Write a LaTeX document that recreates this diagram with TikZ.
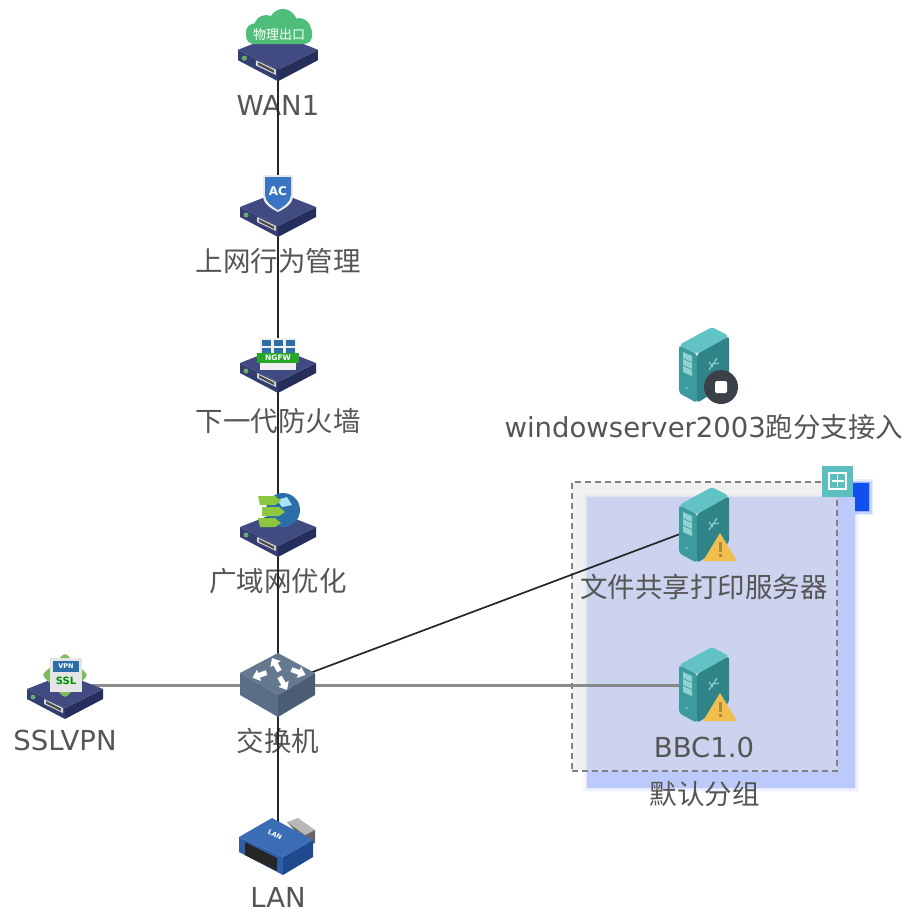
\documentclass[tikz,border=0pt]{standalone}
\usepackage{fontspec}
\setmainfont{DejaVu Sans}
\newfontfamily\cjk{Noto Sans CJK SC}
\usetikzlibrary{positioning}
\definecolor{txtgray}{HTML}{555555}
\definecolor{boxtop}{HTML}{414B82}
\definecolor{boxleft}{HTML}{343E72}
\definecolor{boxright}{HTML}{262E5C}
\definecolor{srvtop}{HTML}{62C3C4}
\definecolor{srvleft}{HTML}{3D9A9E}
\definecolor{srvright}{HTML}{2F8488}
\definecolor{srvpale}{HTML}{8FD3D1}
\definecolor{warnyellow}{HTML}{F2BF4F}
\definecolor{warnmark}{HTML}{A98A3C}
\definecolor{stopgray}{HTML}{3C4048}
\definecolor{cloudgreen}{HTML}{4FBE7A}
\definecolor{groupblue}{HTML}{BBC9FB}
\definecolor{markblue}{HTML}{1050F0}
\definecolor{plusteal}{HTML}{5BBFC0}
\definecolor{shieldblue}{HTML}{3A75C4}
\definecolor{tileblue}{HTML}{2C6FA8}
\definecolor{leafgreen}{HTML}{8DC63F}
\definecolor{diamondgreen}{HTML}{7DBB5C}
\definecolor{swtop}{HTML}{64798F}
\definecolor{swleft}{HTML}{5A6F87}
\definecolor{swright}{HTML}{4A5D75}
\definecolor{lantop}{HTML}{3A6DB5}
\definecolor{lanleft}{HTML}{2F5FA8}
\definecolor{lanright}{HTML}{1F4A8E}
\tikzset{
  vertex/.style={shape=circle,minimum size=0pt,inner sep=0},
  devlabel/.style={text=txtgray,font=\fontsize{27.5}{30}\selectfont,text height=21pt,text depth=6pt,inner sep=0},
  thinlink/.style={draw=black!85,line width=1.7pt},
  fatlink/.style={draw=black!50,line width=3pt,opacity=.9},
  groupshade/.style={shape=rectangle,minimum width=268pt,minimum height=291pt,inner sep=0},
  groupbox/.style={shape=rectangle,draw=black!50,dashed,line width=1.5pt,dash pattern=on 6pt off 4pt,fill=black!12,fill opacity=.45,minimum width=265pt,minimum height=289pt,inner sep=0},
  devbox/.pic={
    \fill[boxleft] (-38,-5) -- (0,14) -- (0,25) -- (-38,5) -- cycle;
    \fill[boxright] (38,-5) -- (0,14) -- (0,25) -- (38,5) -- cycle;
    \fill[boxtop] (-38,-5) -- (0,-20) -- (38,-5) -- (0,14) -- cycle;
    \fill[black!15] (-21,5) -- (-2,14) -- (-2,19) -- (-21,10) -- cycle;
    \fill[black!70] (-19,7) -- (-4,14.5) -- (-4,17) -- (-19,9.5) -- cycle;
    \fill[green!45!black!60] (-32,3) circle (2.5);
  },
  serverbox/.pic={
    \fill[srvleft,rounded corners=3pt] (-25,-20) -- (-7,-11) -- (-7,38) -- (-25,28) -- cycle;
    \fill[srvright,rounded corners=3pt] (25,-29) -- (-7,-11) -- (-7,38) -- (25,18) -- cycle;
    \fill[srvtop,rounded corners=3pt] (-25,-20) -- (8,-38) -- (25,-29) -- (-7,-11) -- cycle;
    \foreach \r in {0,7,14} {
      \fill[srvpale] (-21,-13+\r) -- (-12,-9+\r) -- (-12,-3+\r) -- (-21,-7+\r) -- cycle;
    }
    \fill[srvpale] (-17,23) circle (1);
    \draw[srvpale,line width=1pt] (5,5) -- (13,-7) (5,-3) -- (9,2) (9,-1) -- (15,-2);
  },
  warnbadge/.pic={
    \fill[warnyellow] (16,8) -- (33,36) -- (-1,36) -- cycle;
    \fill[warnmark] (14.5,17) rectangle (17.5,27);
    \fill[warnmark] (14.5,29) rectangle (17.5,32);
  },
  stopbadge/.pic={
    \fill[stopgray] (17,22) circle (17);
    \fill[white,rounded corners=1.5pt] (11,16) rectangle (23,28);
  },
  cloudicon/.pic={
    \fill[cloudgreen] (-22,-22) circle (10);
    \fill[cloudgreen] (-12,-28) circle (12);
    \fill[cloudgreen] (5,-32) circle (14);
    \fill[cloudgreen] (21,-25) circle (12);
    \fill[cloudgreen,rounded corners=8pt] (-32,-31) rectangle (34,-11);
    \node[text=white,font=\cjk\fontsize{13}{13}\selectfont,inner sep=0] (cloudtxt) at (1,-20) {物理出口};
  },
  shieldicon/.pic={
    \fill[black!8] (-15,-37) -- (15,-37) -- (15,-16) .. controls (15,-8) and (6,-3) .. (0,0) .. controls (-6,-3) and (-15,-8) .. (-15,-16) -- cycle;
    \fill[shieldblue] (-13,-35) -- (13,-35) -- (13,-17) .. controls (13,-10) and (5,-5) .. (0,-2) .. controls (-5,-5) and (-13,-10) .. (-13,-17) -- cycle;
    \node[text=white,font=\bfseries\fontsize{12}{12}\selectfont,inner sep=0] (actxt) at (0,-21) {AC};
  },
  wallicon/.pic={
    \fill[black!6] (-18,-30) rectangle (18,2);
    \foreach \x in {-16,-4,8} {
      \fill[tileblue] (\x,-28) rectangle (\x+9,-22);
      \fill[tileblue] (\x,-20) rectangle (\x+9,-15);
    }
    \fill[green!60!black!85] (-21,-15) rectangle (21,-5);
    \node[text=white,font=\bfseries\fontsize{7.5}{8}\selectfont,inner sep=0] (wallxt) at (0,-10) {NGFW};
  },
  globeicon/.pic={
    \fill[tileblue] (5,-22) circle (17);
    \fill[cyan!35!white] (-1,-32) -- (9,-35) -- (14,-27) -- (4,-25) -- cycle;
    \fill[leafgreen] (-20,-36) -- (-3,-36) -- (3,-31) -- (-3,-27) -- (-18,-27) -- cycle;
    \fill[leafgreen] (-16,-25) -- (1,-25) -- (7,-20) -- (1,-16) -- (-16,-16) -- cycle;
    \fill[leafgreen] (-20,-14) -- (-3,-14) -- (3,-9) -- (-3,-5) -- (-18,-5) -- cycle;
  },
  sslicon/.pic={
    \fill[diamondgreen,rounded corners=3pt] (-23,-19) -- (0,-41) -- (23,-19) -- (0,4) -- cycle;
    \fill[black!10] (-15,-36) rectangle (17,-2);
    \fill[tileblue] (-12,-33) rectangle (14,-22);
    \node[text=white,font=\bfseries\fontsize{6.5}{7}\selectfont,inner sep=0] (vpntxt) at (1,-27.5) {VPN};
    \node[text=green!55!black,font=\bfseries\fontsize{10}{10}\selectfont,inner sep=0] (ssltxt) at (1,-13) {SSL};
  },
  switchbox/.pic={
    \fill[swleft] (-38,-12) -- (0,10) -- (0,32) -- (-38,10) -- cycle;
    \fill[swright] (37,-12) -- (0,10) -- (0,32) -- (37,10) -- cycle;
    \fill[swtop] (-38,-12) -- (0,-32) -- (37,-12) -- (0,10) -- cycle;
    \foreach \x/\y/\r in {-2/-20/120,-18/-10/200,20/-13/-20,5/-2/-60} {
      \fill[white,shift={(\x,\y)},rotate=\r] (-7,-2.5) -- (1,-2.5) -- (1,-6) -- (8,0) -- (1,6) -- (1,2.5) -- (-7,2.5) -- cycle;
    }
  },
  lanbox/.pic={
    \fill[black!60] (9,-25) -- (37,-17) -- (37,-4) -- (30,-2) -- cycle;
    \fill[black!28] (9,-25) -- (20,-29) -- (37,-17) -- (27,-12) -- cycle;
    \fill[lanleft] (-39,-10) -- (5,10) -- (5,28) -- (-39,5) -- cycle;
    \fill[lanright] (35,-7) -- (5,10) -- (5,28) -- (35,10) -- cycle;
    \fill[lantop] (-39,-10) -- (-6,-29) -- (35,-7) -- (5,10) -- cycle;
    \fill[black!85] (-33,-5) -- (-1,11) -- (-1,24) -- (-33,8) -- cycle;
    \node[text=white,font=\bfseries\fontsize{6.5}{7}\selectfont,inner sep=0,rotate=-28] (lantxt) at (-3,-12) {LAN};
  }
}
\begin{document}
\begin{tikzpicture}[x=1pt,y=-1pt]
      \useasboundingbox (0,0) rectangle (906,911);
      \foreach \w/\o in {8/.1,5/.15,2/.25} {
        \draw[groupblue,line width=\w pt,opacity=\o] (587,497) rectangle (855,788);
        \draw[markblue,line width=\w pt,opacity=\o] (840,483) rectangle (869,511);
      }
      \fill[markblue] (840,483) rectangle (869,511);
      \node[groupshade,fill=groupblue] (g0) at (721,642.5) {};
      \node[groupbox,label={[devlabel,label distance=12pt,fill opacity=1]below:{\cjk 默认分组}}] (g1) at (704.5,626.5) {};

      \node[vertex,label={[devlabel,label distance=39pt]below:WAN1}] (v1) at (278,55) {};
      \node[vertex,below of=v1,node distance=157pt,label={[devlabel,label distance=38pt]below:{\cjk 上网行为管理}}] (v2) {};
      \node[vertex,below of=v2,node distance=156pt,label={[devlabel,label distance=42pt]below:{\cjk 下一代防火墙}}] (v3) {};
      \node[vertex,below of=v3,node distance=164pt,label={[devlabel,label distance=38pt]below:{\cjk 广域网优化}}] (v4) {};
      \node[vertex,below of=v4,node distance=153pt,label={[devlabel,label distance=45pt]below:{\cjk 交换机}}] (v5) {};
      \node[vertex,below of=v5,node distance=162pt,label={[devlabel,text depth=0pt,label distance=39pt]below:LAN}] (v6) {};
      \node[vertex,left of=v5,node distance=213pt,label={[devlabel,label distance=44pt]below:SSLVPN}] (v7) {};
      \node[vertex,label={[devlabel,label distance=51pt]below:windowserver2003{\cjk 跑分支接入}}] (v8) at (704,365) {};
      \node[vertex,label={[devlabel,label distance=51pt]below:BBC1.0}] (v10) at (704,685) {};
      \node[vertex,above of=v10,node distance=160pt,label={[devlabel,label distance=51pt]below:{\cjk 文件共享打印服务器}}] (v9) {};

      \draw[thinlink] (v1) -- (v2);
      \draw[thinlink] (v2) -- (v3);
      \draw[thinlink,line width=2pt] (v3) -- (v4);
      \draw[thinlink,line width=2pt] (v4) -- (v5);
      \draw[thinlink] (v5) -- (v6);
      \draw[fatlink] (v7) -- (v5);
      \draw[fatlink] (v5) -- (v10);
      \draw[thinlink] (v5) -- (v9);

      \pic[scale=1.05] at (v1) {devbox};
      \pic at (v1) {cloudicon};
      \pic at (v2) {devbox};
      \pic at (v2) {shieldicon};
      \pic at (v3) {devbox};
      \pic at (v3) {wallicon};
      \pic at (v4) {devbox};
      \pic at (v4) {globeicon};
      \pic at (v5) {switchbox};
      \pic at (v6) {lanbox};
      \pic at ([yshift=-9pt]v7) {devbox};
      \pic at ([yshift=-9pt]v7) {sslicon};
      \pic at (v8) {serverbox};
      \pic at (v8) {stopbadge};
      \pic at (v9) {serverbox};
      \pic at (v9) {warnbadge};
      \pic at (v10) {serverbox};
      \pic at (v10) {warnbadge};

      \node[shape=rectangle,fill=plusteal,minimum size=31pt,inner sep=0] (plusbtn) at (837.5,481) {};
      \draw[white,line width=1.5pt] (829,473) rectangle (846,489);
      \draw[white,line width=1.2pt] (plusbtn.center) ++(0,-6) -- ++(0,12) (plusbtn.center) ++(-6,0) -- ++(12,0);
    \end{tikzpicture}
\end{document}
